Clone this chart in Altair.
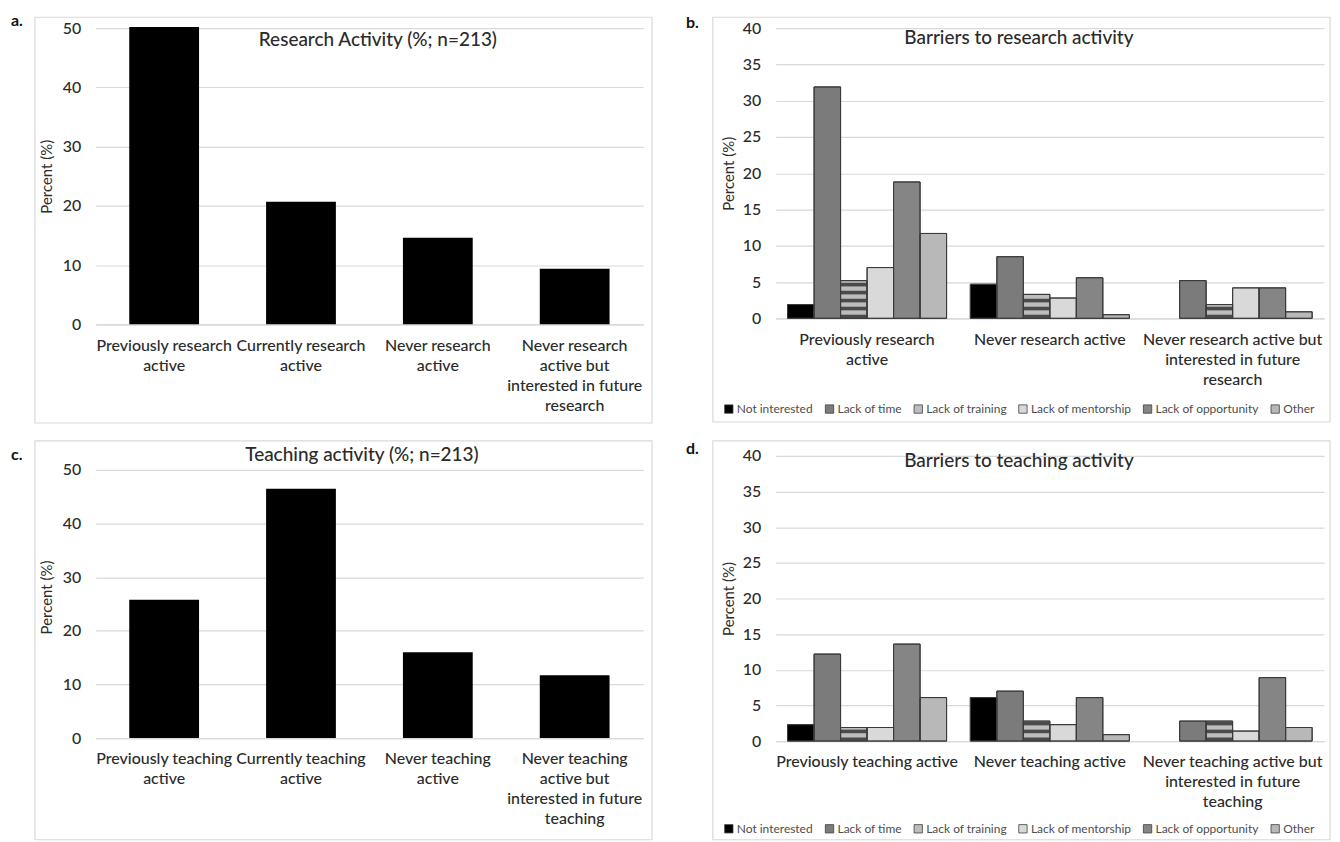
import json
import altair as alt
import pandas as pd

# ---------------- data ----------------
research_cats = ["Previously research active", "Currently research active",
                 "Never research active", "Never research active but interested in future research"]
research_pct = [50.2, 20.7, 14.6, 9.4]
research_wrapped = [["Previously research", "active"], ["Currently research", "active"],
                    ["Never research", "active"], ["Never research", "active but", "interested in future", "research"]]

teaching_cats = ["Previously teaching active", "Currently teaching active",
                 "Never teaching active", "Never teaching active but interested in future teaching"]
teaching_pct = [25.8, 46.5, 16.0, 11.7]
teaching_wrapped = [["Previously teaching", "active"], ["Currently teaching", "active"],
                    ["Never teaching", "active"], ["Never teaching", "active but", "interested in future", "teaching"]]

barriers = ["Not interested", "Lack of time", "Lack of training",
            "Lack of mentorship", "Lack of opportunity", "Other"]
barrier_colors = ["#000000", "#7b7b7b", "#bdbdbd", "#d9d9d9", "#858585", "#b8b8b8"]

res_groups = ["Previously research active", "Never research active",
              "Never research active but interested in future research"]
res_groups_wrapped = [["Previously research", "active"], ["Never research active"],
                      ["Never research active but", "interested in future", "research"]]
res_not_interested = [1.9, 4.7, 0.0]
res_lack_time = [31.9, 8.5, 5.2]
res_lack_training = [5.2, 3.3, 1.9]
res_lack_mentorship = [7.0, 2.8, 4.2]
res_lack_opportunity = [18.8, 5.6, 4.2]
res_other = [11.7, 0.5, 0.9]

teach_groups = ["Previously teaching active", "Never teaching active",
                "Never teaching active but interested in future teaching"]
teach_groups_wrapped = [["Previously teaching active"], ["Never teaching active"],
                        ["Never teaching active but", "interested in future", "teaching"]]
teach_not_interested = [2.3, 6.1, 0.0]
teach_lack_time = [12.2, 7.0, 2.8]
teach_lack_training = [1.9, 2.8, 2.8]
teach_lack_mentorship = [1.9, 2.3, 1.4]
teach_lack_opportunity = [13.6, 6.1, 8.9]
teach_other = [6.1, 0.9, 1.9]

# ---------------- style ----------------
FONT = "Lato"
TXT = "#2b2b2b"
GRID = "#d9d9d9"
one = alt.Data(values=[{"k": 1}])


def label_expr(cats, wrapped):
    expr = "datum.label"
    for c, w in reversed(list(zip(cats, wrapped))):
        expr = f"datum.label == {json.dumps(c)} ? {json.dumps(w)} : ({expr})"
    return expr


def decorations(cell, border, label, title):
    cx1, cx2, cy1, cy2 = cell
    bx1, bx2, by1, by2 = border
    lx, ly, ltxt = label
    tx, ty, ttxt = title
    cell_rect = alt.Chart(one).mark_rect(fill="white", opacity=0).encode(
        x=alt.value(cx1), x2=alt.value(cx2), y=alt.value(cy1), y2=alt.value(cy2))
    border_rect = alt.Chart(one).mark_rect(fillOpacity=0, stroke=GRID, strokeWidth=1.2).encode(
        x=alt.value(bx1), x2=alt.value(bx2), y=alt.value(by1), y2=alt.value(by2))
    lab = alt.Chart(one).mark_text(text=ltxt, font=FONT, fontSize=16, fontWeight="bold",
                                   color="#111111", align="left", baseline="middle").encode(
        x=alt.value(lx), y=alt.value(ly))
    tit = alt.Chart(one).mark_text(text=ttxt, font=FONT, fontSize=19, fontWeight=500,
                                   color=TXT, align="center", baseline="middle").encode(
        x=alt.value(tx), y=alt.value(ty))
    return [cell_rect, border_rect, lab, tit]


def x_axis(cats, wrapped):
    return alt.Axis(labelExpr=label_expr(cats, wrapped), labelAngle=0, labelFontSize=16,
                    labelFontWeight=500, labelColor=TXT, labelLineHeight=20, labelPadding=13,
                    domainColor=GRID, domainWidth=1.2, ticks=False, labelOverlap=False,
                    labelLimit=0, title=None, labelFont=FONT)


def y_axis(vals, title_pad):
    return alt.Axis(values=vals, grid=True, gridColor=GRID, gridWidth=1.2, domain=False, ticks=False,
                    labelPadding=15, labelFontSize=16, labelFontWeight=500, labelColor=TXT,
                    labelFont=FONT, title="Percent (%)", titleFontSize=15, titleFontWeight="normal",
                    titleColor=TXT, titlePadding=title_pad, titleFont=FONT)


def simple_panel(cats, vals, wrapped, w, h, ymax, deco):
    df = pd.DataFrame({"cat": cats, "pct": vals})
    bars = alt.Chart(df).mark_bar(color="#000000").encode(
        x=alt.X("cat:N", sort=cats, scale=alt.Scale(paddingInner=0.49, paddingOuter=0.245),
                axis=x_axis(cats, wrapped)),
        y=alt.Y("pct:Q", scale=alt.Scale(domain=[0, ymax], nice=False),
                axis=y_axis([0, 10, 20, 30, 40, 50], 7.5), title="Percent (%)"),
    )
    return alt.layer(*deco, bars).properties(width=w, height=h)


def barrier_panel(groups, wrapped, series, w, h, legend_xy, deco):
    rows = []
    for bi, b in enumerate(barriers):
        for gi, g in enumerate(groups):
            rows.append({"group": g, "barrier": b, "value": series[bi][gi]})
    df = pd.DataFrame(rows)
    x = alt.X("group:N", sort=groups, scale=alt.Scale(paddingInner=0.13, paddingOuter=0.065),
              axis=x_axis(groups, wrapped))
    xo = alt.XOffset("barrier:N", sort=barriers,
                     scale=alt.Scale(domain=barriers, paddingInner=0, paddingOuter=0))
    yscale = alt.Scale(domain=[0, 40], nice=False)
    yax = y_axis([0, 5, 10, 15, 20, 25, 30, 35, 40], 5.5)
    base = alt.Chart(df).transform_filter("datum.value > 0").mark_bar(
        stroke="#3a3a3a", strokeWidth=1).encode(
        x=x, xOffset=xo,
        y=alt.Y("value:Q", scale=yscale, axis=yax, title="Percent (%)"),
        color=alt.Color("barrier:N", sort=barriers,
                        scale=alt.Scale(domain=barriers, range=barrier_colors),
                        legend=alt.Legend(title=None, orient="none", legendX=legend_xy[0],
                                          legendY=legend_xy[1], direction="horizontal",
                                          symbolType="square", symbolSize=70,
                                          symbolStrokeColor="#404040", symbolStrokeWidth=0.8,
                                          labelFontSize=12, labelColor="#4d4d4d", labelFont=FONT,
                                          columnPadding=10, labelOffset=2)),
    )
    stripes = alt.Chart(df).transform_filter(
        "datum.barrier == 'Lack of training' && datum.value > 0"
    ).transform_calculate(
        seg="sequence(0, datum.value, 1.1)"
    ).transform_flatten(["seg"]).transform_calculate(
        seg_end="min(datum.seg + 0.5, datum.value)"
    ).mark_bar(color="#4a4a4a").encode(
        x=x, xOffset=xo,
        y=alt.Y("seg:Q", scale=yscale, axis=yax, title="Percent (%)"),
        y2=alt.Y2("seg_end"),
    )
    outline = alt.Chart(df).transform_filter("datum.value > 0").mark_bar(
        fillOpacity=0, stroke="#3a3a3a", strokeWidth=1).encode(
        x=x, xOffset=xo,
        y=alt.Y("value:Q", scale=yscale, axis=yax, title="Percent (%)"),
    )
    return alt.layer(*deco, base, stripes, outline).properties(width=w, height=h)


res_series = [res_not_interested, res_lack_time, res_lack_training,
              res_lack_mentorship, res_lack_opportunity, res_other]
teach_series = [teach_not_interested, teach_lack_time, teach_lack_training,
                teach_lack_mentorship, teach_lack_opportunity, teach_other]

panel_a = simple_panel(
    research_cats, research_pct, research_wrapped, 549, 297, 50,
    decorations((-87, 575, -18, 404), (-61, 558, -11, 396), (-85, -7, "a."),
                (283, 12, "Research Activity (%; n=213)")))

panel_b = barrier_panel(
    res_groups, res_groups_wrapped, res_series, 550, 291, (-53, 376),
    decorations((-105, 557, -18, 404), (-63, 556, -11, 395), (-90, -5, "b."),
                (244, 10, "Barriers to research activity")))

# panel c shares its row's plot top with panel d (453 px); its 0-50 ticks span 269 px of 283
panel_c = simple_panel(
    teaching_cats, teaching_pct, teaching_wrapped, 549, 283, 52.6,
    decorations((-87, 575, -23, 387), (-61, 558, -15, 385), (-85, -1, "c."),
                (267, -1, "Teaching activity (%; n=213)")))

panel_d = barrier_panel(
    teach_groups, teach_groups_wrapped, teach_series, 550, 286, (-53, 368),
    decorations((-105, 557, -23, 387), (-63, 556, -15, 385), (-90, -7, "d."),
                (244, 5, "Barriers to teaching activity")))

chart = alt.vconcat(
    alt.hconcat(panel_a, panel_b, spacing=0).resolve_scale(color="independent"),
    alt.hconcat(panel_c, panel_d, spacing=0).resolve_scale(color="independent"),
    spacing=0,
).resolve_scale(color="independent").properties(padding=0).configure(
    font=FONT).configure_view(stroke="transparent")

chart.save("out.html", embed_options={"renderer": "svg", "actions": False})
